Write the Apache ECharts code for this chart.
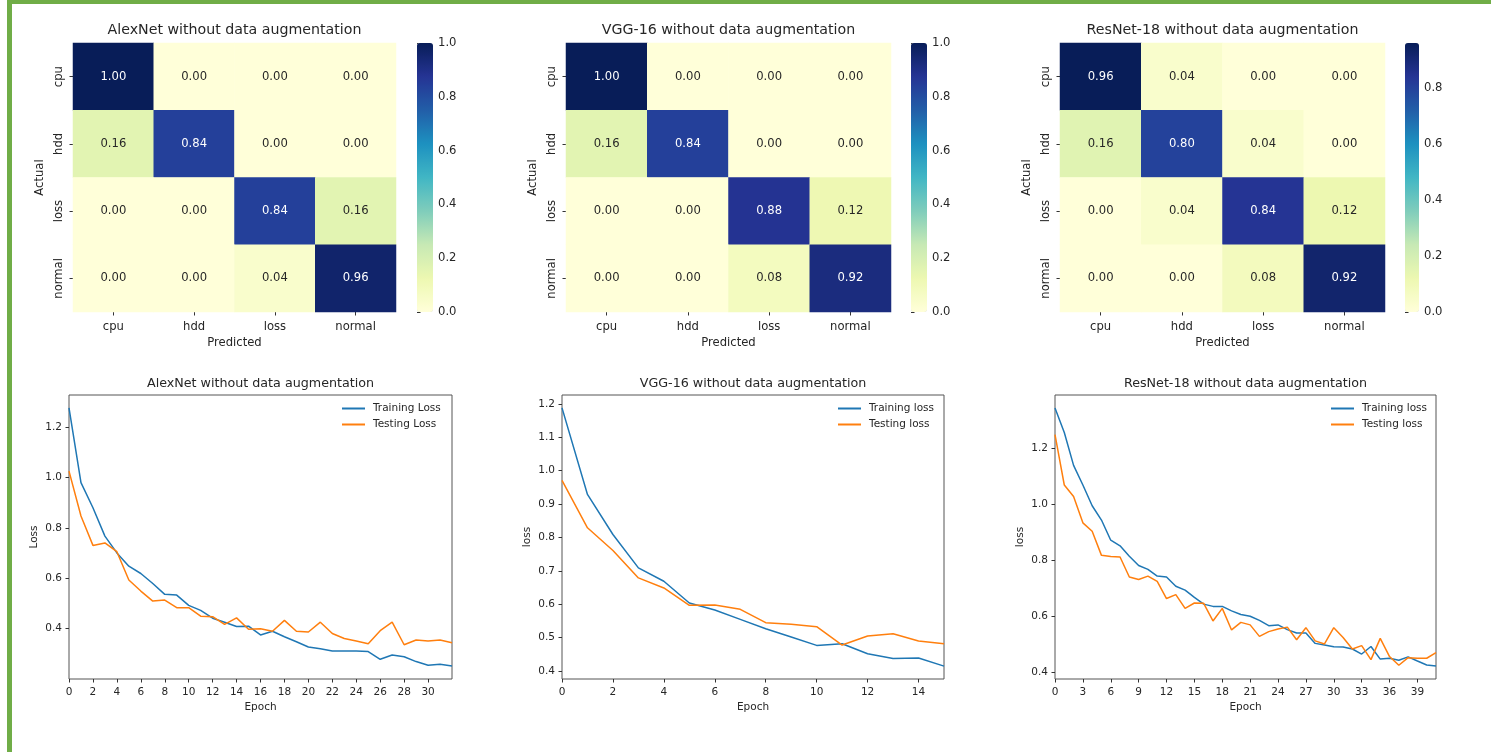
<!DOCTYPE html>
<html>
<head>
<meta charset="utf-8">
<script src="https://cdn.jsdelivr.net/npm/echarts@6/dist/echarts.min.js"></script>
<style>
html,body{margin:0;padding:0;background:#fff;overflow:hidden;}
#c{position:absolute;left:0;top:0;width:1491px;height:752px;}
.gl{position:absolute;left:7px;top:0;width:5px;height:752px;background:#70ad47;}
.gt{position:absolute;left:7px;top:0;width:1484px;height:4px;background:#70ad47;}
</style>
</head>
<body>
<div id="c"></div><div class="gl"></div><div class="gt"></div>
<script>
// ---------- data ----------
const classes = ['cpu', 'hdd', 'loss', 'normal'];
const modelNames = ['AlexNet without data augmentation', 'VGG-16 without data augmentation', 'ResNet-18 without data augmentation'];

const alexCM = [[1.00, 0.00, 0.00, 0.00], [0.16, 0.84, 0.00, 0.00], [0.00, 0.00, 0.84, 0.16], [0.00, 0.00, 0.04, 0.96]];
const vggCM = [[1.00, 0.00, 0.00, 0.00], [0.16, 0.84, 0.00, 0.00], [0.00, 0.00, 0.88, 0.12], [0.00, 0.00, 0.08, 0.92]];
const resnetCM = [[0.96, 0.04, 0.00, 0.00], [0.16, 0.80, 0.04, 0.00], [0.00, 0.04, 0.84, 0.12], [0.00, 0.00, 0.08, 0.92]];

const colorbarTicksFull = [0.0, 0.2, 0.4, 0.6, 0.8, 1.0];
const colorbarTicksRes = [0.0, 0.2, 0.4, 0.6, 0.8];

const alexTrain = [1.278, 0.980, 0.880, 0.767, 0.700, 0.647, 0.618, 0.578, 0.535, 0.532, 0.491, 0.471, 0.440, 0.424, 0.407, 0.408, 0.373, 0.388, 0.366, 0.346, 0.325, 0.318, 0.309, 0.309, 0.309, 0.307, 0.276, 0.293, 0.286, 0.267, 0.252, 0.256, 0.249];
const alexTest = [1.026, 0.847, 0.730, 0.740, 0.705, 0.592, 0.548, 0.508, 0.512, 0.482, 0.482, 0.448, 0.446, 0.415, 0.441, 0.396, 0.398, 0.388, 0.431, 0.388, 0.385, 0.424, 0.379, 0.359, 0.349, 0.338, 0.390, 0.424, 0.334, 0.353, 0.349, 0.353, 0.342];

const vggTrain = [1.188, 0.929, 0.809, 0.709, 0.669, 0.604, 0.583, 0.555, 0.527, 0.502, 0.477, 0.482, 0.452, 0.438, 0.439, 0.415];
const vggTest = [0.971, 0.829, 0.761, 0.679, 0.649, 0.597, 0.598, 0.585, 0.545, 0.540, 0.533, 0.478, 0.505, 0.512, 0.490, 0.482];

const resTrain = [1.343, 1.255, 1.138, 1.068, 0.994, 0.943, 0.871, 0.851, 0.814, 0.781, 0.767, 0.743, 0.740, 0.707, 0.693, 0.667, 0.643, 0.635, 0.635, 0.619, 0.606, 0.600, 0.585, 0.566, 0.569, 0.552, 0.540, 0.540, 0.503, 0.497, 0.491, 0.490, 0.483, 0.465, 0.492, 0.447, 0.450, 0.443, 0.455, 0.440, 0.426, 0.422];
const resTest = [1.248, 1.068, 1.027, 0.933, 0.903, 0.817, 0.813, 0.811, 0.740, 0.731, 0.743, 0.724, 0.663, 0.677, 0.628, 0.647, 0.646, 0.583, 0.628, 0.551, 0.578, 0.569, 0.528, 0.545, 0.554, 0.561, 0.516, 0.559, 0.512, 0.501, 0.559, 0.524, 0.483, 0.495, 0.445, 0.521, 0.456, 0.425, 0.452, 0.450, 0.450, 0.470];

const alexXTicks = [0, 2, 4, 6, 8, 10, 12, 14, 16, 18, 20, 22, 24, 26, 28, 30];
const vggXTicks = [0, 2, 4, 6, 8, 10, 12, 14];
const resXTicks = [0, 3, 6, 9, 12, 15, 18, 21, 24, 27, 30, 33, 36, 39];
const alexYTicks = [0.4, 0.6, 0.8, 1.0, 1.2];
const vggYTicks = [0.4, 0.5, 0.6, 0.7, 0.8, 0.9, 1.0, 1.1, 1.2];
const resYTicks = [0.4, 0.6, 0.8, 1.0, 1.2];

// ---------- styling / layout ----------
const FONT = 'DejaVu Sans';
const TXT = '#262626';
const YlGnBu = ['#ffffd9', '#edf8b1', '#c7e9b4', '#7fcdbb', '#41b6c4', '#1d91c0', '#225ea8', '#253494', '#081d58'];
const BLUE = '#1f77b4', ORANGE = '#ff7f0e';
const HM_FS = 11.6, HM_TITLE_FS = 14.2, LN_FS = 10.5, LN_TITLE_FS = 12.7;

const heatLayout = [
  {left: 73, width: 323, cbLeft: 417, cbW: 16},
  {left: 566, width: 325, cbLeft: 911, cbW: 16},
  {left: 1060, width: 325, cbLeft: 1405, cbW: 14}
];
const HEAT_TOP = 43, HEAT_H = 269;

const lineLayout = [
  {left: 69, width: 383, legLeft: 342},
  {left: 562, width: 382, legLeft: 838},
  {left: 1055, width: 381, legLeft: 1331}
];
const LINE_TOP = 395, LINE_H = 284;

const matrices = [alexCM, vggCM, resnetCM];
const cbMax = [1.0, 1.0, 0.96];
const cbTicks = [colorbarTicksFull, colorbarTicksFull, colorbarTicksRes];

const lineSets = [
  {train: alexTrain, test: alexTest, names: ['Training Loss', 'Testing Loss'], yName: 'Loss', xt: alexXTicks, yt: alexYTicks},
  {train: vggTrain, test: vggTest, names: ['Training loss', 'Testing loss'], yName: 'loss', xt: vggXTicks, yt: vggYTicks},
  {train: resTrain, test: resTest, names: ['Training loss', 'Testing loss'], yName: 'loss', xt: resXTicks, yt: resYTicks}
];

const grid = [], xAxis = [], yAxis = [], series = [], visualMap = [], title = [], legend = [];

// heatmaps
matrices.forEach((m, i) => {
  const L = heatLayout[i];
  const gi = grid.length;
  grid.push({left: L.left, top: HEAT_TOP, width: L.width, height: HEAT_H, show: false});
  xAxis.push({
    gridIndex: gi, type: 'category', data: classes,
    axisLine: {show: false},
    axisTick: {show: true, length: 3.5, alignWithLabel: true, lineStyle: {color: '#333'}},
    axisLabel: {fontSize: HM_FS, color: TXT, fontFamily: FONT, margin: 9},
    splitLine: {show: false},
    name: 'Predicted', nameLocation: 'middle', nameGap: 25,
    nameTextStyle: {fontSize: HM_FS, color: TXT, fontFamily: FONT}
  });
  yAxis.push({
    gridIndex: gi, type: 'category', data: classes, inverse: true,
    axisLine: {show: false},
    axisTick: {show: true, length: 3.5, alignWithLabel: true, lineStyle: {color: '#333'}},
    axisLabel: {fontSize: HM_FS, color: TXT, fontFamily: FONT, margin: 8, rotate: 90},
    splitLine: {show: false},
    name: 'Actual', nameLocation: 'middle', nameGap: 27,
    nameTextStyle: {fontSize: HM_FS, color: TXT, fontFamily: FONT}
  });
  const data = [];
  m.forEach((row, r) => row.forEach((v, c) => {
    data.push({value: [c, r, v], label: {color: v > 0.5 ? '#ffffff' : TXT}});
  }));
  series.push({
    type: 'heatmap', xAxisIndex: gi, yAxisIndex: gi, data: data,
    label: {show: true, fontSize: HM_FS, fontFamily: FONT, formatter: p => p.value[2].toFixed(2)},
    emphasis: {disabled: true}
  });
  visualMap.push({
    type: 'continuous', seriesIndex: series.length - 1, dimension: 2,
    min: 0, max: cbMax[i], calculable: false, show: true, orient: 'vertical',
    left: L.cbLeft, top: HEAT_TOP, itemWidth: L.cbW, itemHeight: HEAT_H, padding: 0,
    text: null, inRange: {color: YlGnBu}, hoverLink: false
  });
  title.push({
    text: modelNames[i], left: L.left + L.width / 2, textAlign: 'center', top: 23, padding: 0,
    textStyle: {fontSize: HM_TITLE_FS, fontWeight: 'normal', color: TXT, fontFamily: FONT}
  });
});

// colorbar tick axes
matrices.forEach((m, i) => {
  const L = heatLayout[i];
  const gi = grid.length;
  grid.push({left: L.cbLeft, top: HEAT_TOP, width: L.cbW, height: HEAT_H, show: false});
  xAxis.push({gridIndex: gi, type: 'value', show: false, min: 0, max: 1});
  yAxis.push({
    gridIndex: gi, type: 'value', position: 'right', min: 0, max: cbMax[i],
    axisLine: {show: false},
    axisTick: {show: true, length: 3.5, customValues: cbTicks[i], lineStyle: {color: '#333'}},
    axisLabel: {customValues: cbTicks[i], formatter: v => v.toFixed(1), fontSize: HM_FS, color: TXT, fontFamily: FONT, margin: 5},
    splitLine: {show: false}
  });
});

// line charts
function paddedExtent(arrs) {
  let lo = Infinity, hi = -Infinity;
  arrs.forEach(a => a.forEach(v => { lo = Math.min(lo, v); hi = Math.max(hi, v); }));
  const pad = (hi - lo) * 0.05;
  return [lo - pad, hi + pad];
}
lineSets.forEach((s, i) => {
  const L = lineLayout[i];
  const gi = grid.length;
  grid.push({left: L.left, top: LINE_TOP, width: L.width, height: LINE_H, show: true, borderColor: '#555', borderWidth: 1, backgroundColor: '#fff'});
  const ext = paddedExtent([s.train, s.test]);
  xAxis.push({
    gridIndex: gi, type: 'value', min: 0, max: s.train.length - 1,
    axisLine: {show: false},
    axisTick: {show: true, length: 3.5, customValues: s.xt, lineStyle: {color: '#333'}},
    axisLabel: {customValues: s.xt, fontSize: LN_FS, color: TXT, fontFamily: FONT, margin: 8},
    splitLine: {show: false},
    name: 'Epoch', nameLocation: 'middle', nameGap: 23,
    nameTextStyle: {fontSize: LN_FS, color: TXT, fontFamily: FONT}
  });
  yAxis.push({
    gridIndex: gi, type: 'value', min: ext[0], max: ext[1],
    axisLine: {show: false},
    axisTick: {show: true, length: 3.5, customValues: s.yt, lineStyle: {color: '#333'}},
    axisLabel: {customValues: s.yt, formatter: v => v.toFixed(1), fontSize: LN_FS, color: TXT, fontFamily: FONT, margin: 7},
    splitLine: {show: false},
    name: s.yName, nameLocation: 'middle', nameGap: 29,
    nameTextStyle: {fontSize: LN_FS, color: TXT, fontFamily: FONT}
  });
  [[s.train, BLUE, s.names[0]], [s.test, ORANGE, s.names[1]]].forEach(([arr, col, nm]) => {
    series.push({
      type: 'line', name: nm, xAxisIndex: gi, yAxisIndex: gi,
      data: arr.map((v, k) => [k, v]),
      symbol: 'none', showSymbol: false, color: col,
      lineStyle: {width: 1.5, color: col}, emphasis: {disabled: true}
    });
  });
  legend.push({
    data: s.names, orient: 'vertical', left: L.legLeft, top: 403, padding: 0,
    icon: 'rect', itemWidth: 23, itemHeight: 2, itemGap: 5, selectedMode: false,
    textStyle: {fontSize: LN_FS, color: TXT, fontFamily: FONT, padding: [0, 0, 0, 3]}
  });
  title.push({
    text: modelNames[i], left: L.left + L.width / 2, textAlign: 'center', top: 377, padding: 0,
    textStyle: {fontSize: LN_TITLE_FS, fontWeight: 'normal', color: TXT, fontFamily: FONT}
  });
});

const chart = echarts.init(document.getElementById('c'), null, {renderer: 'canvas'});
chart.setOption({
  animation: false,
  backgroundColor: '#ffffff',
  textStyle: {fontFamily: FONT},
  title, grid, xAxis, yAxis, series, visualMap, legend
});
</script>
</body>
</html>
